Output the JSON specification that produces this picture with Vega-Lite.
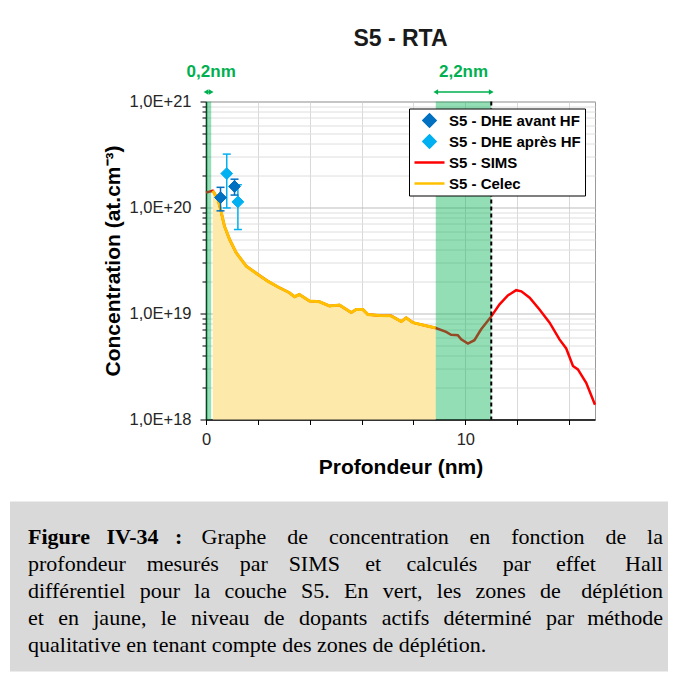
{
  "$schema": "https://vega.github.io/schema/vega-lite/v6.json",
  "background": "white",
  "padding": {"left": 10, "top": 26.5, "right": 10, "bottom": 5},
  "spacing": 24,
  "config": {"font": "Liberation Sans", "view": {"stroke": null}},
  "datasets": {
    "sims": [
      {"x": 0, "v": 1.38e20}, {"x": 0.26, "v": 1.44e20}, {"x": 0.46, "v": 1.2e20}, {"x": 0.59, "v": 9.0e19},
      {"x": 0.71, "v": 6.7e19}, {"x": 0.91, "v": 5.0e19}, {"x": 1.16, "v": 3.76e19}, {"x": 1.55, "v": 2.8e19},
      {"x": 2.0, "v": 2.34e19}, {"x": 2.38, "v": 2.02e19}, {"x": 2.83, "v": 1.75e19}, {"x": 3.22, "v": 1.57e19},
      {"x": 3.41, "v": 1.44e19}, {"x": 3.6, "v": 1.51e19}, {"x": 3.99, "v": 1.31e19}, {"x": 4.38, "v": 1.29e19},
      {"x": 4.76, "v": 1.18e19}, {"x": 5.15, "v": 1.2e19}, {"x": 5.6, "v": 1.02e19}, {"x": 5.79, "v": 1.09e19},
      {"x": 6.05, "v": 1.09e19}, {"x": 6.24, "v": 9.8e18}, {"x": 6.69, "v": 9.6e18}, {"x": 7.14, "v": 9.5e18},
      {"x": 7.53, "v": 8.4e18}, {"x": 7.72, "v": 9.1e18}, {"x": 7.98, "v": 8.2e18}, {"x": 8.36, "v": 7.8e18},
      {"x": 8.86, "v": 7.3e18}, {"x": 9.26, "v": 6.7e18}, {"x": 9.45, "v": 6.3e18}, {"x": 9.71, "v": 6.25e18},
      {"x": 9.84, "v": 5.7e18}, {"x": 10.1, "v": 5.2e18}, {"x": 10.35, "v": 5.6e18}, {"x": 10.61, "v": 7.1e18},
      {"x": 10.96, "v": 9.1e18}, {"x": 11.32, "v": 1.22e19}, {"x": 11.64, "v": 1.48e19}, {"x": 11.96, "v": 1.66e19},
      {"x": 12.16, "v": 1.62e19}, {"x": 12.48, "v": 1.41e19}, {"x": 12.86, "v": 1.09e19}, {"x": 13.25, "v": 8.2e18},
      {"x": 13.63, "v": 5.7e18}, {"x": 13.89, "v": 4.68e18}, {"x": 14.15, "v": 3.2e18}, {"x": 14.34, "v": 2.97e18},
      {"x": 14.66, "v": 2.22e18}, {"x": 15.0, "v": 1.38e18}
    ],
    "celec": [
      {"x": 0.26, "v": 1.44e20}, {"x": 0.46, "v": 1.2e20}, {"x": 0.59, "v": 9.0e19},
      {"x": 0.71, "v": 6.7e19}, {"x": 0.91, "v": 5.0e19}, {"x": 1.16, "v": 3.76e19}, {"x": 1.55, "v": 2.8e19},
      {"x": 2.0, "v": 2.34e19}, {"x": 2.38, "v": 2.02e19}, {"x": 2.83, "v": 1.75e19}, {"x": 3.22, "v": 1.57e19},
      {"x": 3.41, "v": 1.44e19}, {"x": 3.6, "v": 1.51e19}, {"x": 3.99, "v": 1.31e19}, {"x": 4.38, "v": 1.29e19},
      {"x": 4.76, "v": 1.18e19}, {"x": 5.15, "v": 1.2e19}, {"x": 5.6, "v": 1.02e19}, {"x": 5.79, "v": 1.09e19},
      {"x": 6.05, "v": 1.09e19}, {"x": 6.24, "v": 9.8e18}, {"x": 6.69, "v": 9.6e18}, {"x": 7.14, "v": 9.5e18},
      {"x": 7.53, "v": 8.4e18}, {"x": 7.72, "v": 9.1e18}, {"x": 7.98, "v": 8.2e18}, {"x": 8.36, "v": 7.8e18},
      {"x": 8.86, "v": 7.3e18}
    ],
    "dhe": [
      {"series": "S5 - DHE avant HF", "x": 0.56, "v": 1.24e20, "lo": 0.93e20, "hi": 1.55e20},
      {"series": "S5 - DHE avant HF", "x": 1.10, "v": 1.58e20, "lo": 1.31e20, "hi": 1.85e20},
      {"series": "S5 - DHE après HF", "x": 0.80, "v": 2.09e20, "lo": 0.99e20, "hi": 3.19e20},
      {"series": "S5 - DHE après HF", "x": 1.23, "v": 1.13e20, "lo": 0.62e20, "hi": 1.64e20}
    ],
    "bands": [{"x1": 0, "x2": 0.2}, {"x1": 8.86, "x2": 11}],
    "edge": [{"x": 11}],
    "notes": [
      {"x": 0.2, "x1": 0, "x2": 0.2, "label": "0,2nm"},
      {"x": 9.93, "x1": 8.86, "x2": 11, "label": "2,2nm"}
    ],
    "caption": [
      {"line": 1, "side": "left", "role": "label", "text": "Figure\u2002 IV-34\u2002 :"},
      {"line": 1, "side": "right", "role": "body", "text": "Graphe\u2002\u2009 de\u2002\u2009 concentration\u2002\u2009 en\u2002\u2009 fonction\u2002\u2009 de\u2002\u2009 la"},
      {"line": 2, "side": "left", "role": "body", "text": "profondeur\u2002\u2009 mesurés\u2002\u2009 par\u2002\u2009 SIMS\u2002\u2009\u2009 et\u2002\u2009\u2009 calculés\u2002\u2009\u2009 par\u2002\u2009\u2009 effet"},
      {"line": 2, "side": "right", "role": "body", "text": "Hall"},
      {"line": 3, "side": "left", "role": "body", "text": "différentiel\u2009\u2009 pour\u2009\u2009 la\u2009\u2009 couche\u2009\u2009 S5.\u2009\u2009 En\u2009\u2009 vert,\u2009\u2009 les\u2009\u2009 zones\u2009\u2009 de"},
      {"line": 3, "side": "right", "role": "body", "text": "déplétion"},
      {"line": 4, "side": "left", "role": "body", "text": "et\u2009\u2009 en\u2009\u2009 jaune,\u2009\u2009 le\u2009\u2009 niveau\u2009\u2009 de\u2009\u2009 dopants\u2009\u2009 actifs\u2009\u2009 déterminé\u2009\u2009 par"},
      {"line": 4, "side": "right", "role": "body", "text": "méthode"},
      {"line": 5, "side": "left", "role": "body", "text": "qualitative en tenant compte des zones de déplétion."}
    ]
  },
  "vconcat": [
    {
      "spacing": 0,
      "hconcat": [
        {
          "width": 90.5, "height": 10,
          "view": {"stroke": null},
          "data": {"values": [{"t": ""}]},
          "mark": {"type": "text"},
          "encoding": {"text": {"field": "t"}}
        },
        {
          "width": 389, "height": 318,
          "view": {"stroke": "#9a9a9a", "strokeWidth": 1},
          "title": {"text": "S5 - RTA", "font": "Liberation Sans", "fontSize": 23, "fontWeight": "bold", "color": "#1a1a1a", "frame": "group", "anchor": "middle", "offset": 12},
          "layer": [
            {
              "data": {"name": "celec"},
              "mark": {"type": "area", "color": "#fde9a9", "opacity": 1},
              "encoding": {
                "x": {"field": "x", "type": "quantitative", "scale": {"domain": [0, 15], "nice": false, "zero": false},
                  "axis": {"title": "Profondeur (nm)", "values": [0,1,2,3,4,5,6,7,8,9,10,11,12,13,14,15], "format": "d",
                    "labelExpr": "datum.value % 5 === 0 ? datum.label : ''", "labelOverlap": false, "labelFlush": false,
                    "grid": true, "gridColor": "#d9d9d9", "gridWidth": 1,
                    "tickSize": 5, "tickColor": "#000", "tickWidth": 1, "domainColor": "#000", "domainWidth": 1.5,
                    "labelFont": "Liberation Sans", "labelFontSize": 16.5, "labelColor": "#262626", "labelPadding": 7,
                    "titleFont": "Liberation Sans", "titleFontSize": 21, "titleFontWeight": "bold", "titleColor": "#000", "titlePadding": 8}},
                "y": {"field": "v", "type": "quantitative", "scale": {"type": "log", "domain": [1e18, 1e21], "nice": false},
                  "axis": {"title": "Concentration  (at.cm⁻³)",
                    "values": [1e18,2e18,3e18,4e18,5e18,6e18,7e18,8e18,9e18,1e19,2e19,3e19,4e19,5e19,6e19,7e19,8e19,9e19,1e20,2e20,3e20,4e20,5e20,6e20,7e20,8e20,9e20,1e21],
                    "labelExpr": "abs(log(datum.value)/LN10 - round(log(datum.value)/LN10)) < 0.001 ? '1,0E+' + round(log(datum.value)/LN10) : ''",
                    "labelOverlap": false, "labelFlush": false,
                    "grid": true,
                    "gridColor": {"condition": {"test": "abs(log(datum.value)/LN10 - round(log(datum.value)/LN10)) < 0.001", "value": "#bdbdbd"}, "value": "#dedede"},
                    "tickSize": {"condition": {"test": "abs(log(datum.value)/LN10 - round(log(datum.value)/LN10)) < 0.001", "value": 6}, "value": 4},
                    "tickColor": "#000", "domainColor": "#000", "domainWidth": 1.5,
                    "labelFont": "Liberation Sans", "labelFontSize": 16.5, "labelColor": "#262626", "labelPadding": 9,
                    "titleFont": "Liberation Sans", "titleFontSize": 21, "titleFontWeight": "bold", "titleColor": "#000", "titlePadding": 6}},
                "y2": {"datum": 1e18}
              }
            },
            {
              "data": {"name": "sims"},
              "mark": {"type": "line", "color": "#ff0000", "strokeWidth": 2.5},
              "encoding": {"x": {"field": "x", "type": "quantitative"}, "y": {"field": "v", "type": "quantitative"}}
            },
            {
              "data": {"name": "celec"},
              "mark": {"type": "line", "color": "#ffc000", "strokeWidth": 3},
              "encoding": {"x": {"field": "x", "type": "quantitative"}, "y": {"field": "v", "type": "quantitative"}}
            },
            {
              "data": {"name": "bands"},
              "mark": {"type": "rect", "color": "#00b050", "opacity": 0.42},
              "encoding": {"x": {"field": "x1", "type": "quantitative"}, "x2": {"field": "x2"}, "y": {"datum": 1e21}, "y2": {"datum": 1e18}}
            },
            {
              "data": {"name": "edge"},
              "mark": {"type": "rule", "color": "#000", "strokeWidth": 2, "strokeDash": [4, 3]},
              "encoding": {"x": {"field": "x", "type": "quantitative"}, "y": {"datum": 1e21}, "y2": {"datum": 1e18}}
            },
            {
              "data": {"name": "dhe"},
              "mark": {"type": "rule", "strokeWidth": 1.5},
              "encoding": {"x": {"field": "x", "type": "quantitative"}, "y": {"field": "lo", "type": "quantitative"}, "y2": {"field": "hi"},
                "color": {"condition": {"test": "datum.series === 'S5 - DHE avant HF'", "value": "#0070c0"}, "value": "#00b0f0"}}
            },
            {
              "data": {"name": "dhe"},
              "mark": {"type": "rule", "strokeWidth": 1.5, "xOffset": -4, "x2Offset": 4},
              "encoding": {"x": {"field": "x", "type": "quantitative"}, "x2": {"field": "x"}, "y": {"field": "hi", "type": "quantitative"},
                "color": {"condition": {"test": "datum.series === 'S5 - DHE avant HF'", "value": "#0070c0"}, "value": "#00b0f0"}}
            },
            {
              "data": {"name": "dhe"},
              "mark": {"type": "rule", "strokeWidth": 1.5, "xOffset": -4, "x2Offset": 4},
              "encoding": {"x": {"field": "x", "type": "quantitative"}, "x2": {"field": "x"}, "y": {"field": "lo", "type": "quantitative"},
                "color": {"condition": {"test": "datum.series === 'S5 - DHE avant HF'", "value": "#0070c0"}, "value": "#00b0f0"}}
            },
            {
              "data": {"name": "dhe"},
              "mark": {"type": "point", "opacity": 1, "strokeWidth": 1},
              "encoding": {
                "x": {"field": "x", "type": "quantitative"},
                "y": {"field": "v", "type": "quantitative"},
                "fill": {"field": "series", "type": "nominal",
                  "scale": {"domain": ["S5 - DHE avant HF", "S5 - DHE après HF", "S5 - SIMS", "S5 - Celec"], "range": ["#0070c0", "#00b0f0", "#ff0000", "#ffc000"]},
                  "legend": {"title": null, "orient": "none", "legendX": 399, "legendY": 7, "fillColor": "white", "strokeColor": "#000", "padding": 4,
                    "labelFont": "Liberation Sans", "labelFontSize": 15, "labelFontWeight": "bold", "labelColor": "#000",
                    "symbolOffset": 0, "labelOffset": 3, "rowPadding": 5, "clipHeight": 16, "symbolStrokeWidth": 2.5}},
                "stroke": {"field": "series", "type": "nominal",
                  "scale": {"domain": ["S5 - DHE avant HF", "S5 - DHE après HF", "S5 - SIMS", "S5 - Celec"], "range": ["#0070c0", "#00b0f0", "#ff0000", "#ffc000"]},
                  "legend": {"title": null, "orient": "none", "legendX": 399, "legendY": 7, "fillColor": "white", "strokeColor": "#000", "padding": 4,
                    "labelFont": "Liberation Sans", "labelFontSize": 15, "labelFontWeight": "bold", "labelColor": "#000",
                    "symbolOffset": 0, "labelOffset": 3, "rowPadding": 5, "clipHeight": 16, "symbolStrokeWidth": 2.5}},
                "shape": {"field": "series", "type": "nominal",
                  "scale": {"domain": ["S5 - DHE avant HF", "S5 - DHE après HF", "S5 - SIMS", "S5 - Celec"], "range": ["diamond", "diamond", "stroke", "stroke"]},
                  "legend": {"title": null, "orient": "none", "legendX": 399, "legendY": 7, "fillColor": "white", "strokeColor": "#000", "padding": 4,
                    "labelFont": "Liberation Sans", "labelFontSize": 15, "labelFontWeight": "bold", "labelColor": "#000",
                    "symbolOffset": 0, "labelOffset": 3, "rowPadding": 5, "clipHeight": 16, "symbolStrokeWidth": 2.5}},
                "size": {"field": "series", "type": "nominal",
                  "scale": {"type": "ordinal", "domain": ["S5 - DHE avant HF", "S5 - DHE après HF", "S5 - SIMS", "S5 - Celec"], "range": [140, 140, 900, 900]},
                  "legend": {"title": null, "orient": "none", "legendX": 399, "legendY": 7, "fillColor": "white", "strokeColor": "#000", "padding": 4,
                    "labelFont": "Liberation Sans", "labelFontSize": 15, "labelFontWeight": "bold", "labelColor": "#000",
                    "symbolOffset": 0, "labelOffset": 3, "rowPadding": 5, "clipHeight": 16, "symbolStrokeWidth": 2.5}}
              }
            },
            {
              "data": {"name": "notes"},
              "mark": {"type": "text", "color": "#00b050", "fontWeight": "bold", "fontSize": 17, "font": "Liberation Sans", "dy": -30},
              "encoding": {"x": {"field": "x", "type": "quantitative"}, "y": {"datum": 1e21}, "text": {"field": "label"}}
            },
            {
              "data": {"name": "notes"},
              "mark": {"type": "rule", "color": "#00b050", "strokeWidth": 1.5, "yOffset": -9.5},
              "encoding": {"x": {"field": "x1", "type": "quantitative"}, "x2": {"field": "x2"}, "y": {"datum": 1e21}}
            },
            {
              "data": {"name": "notes"},
              "mark": {"type": "point", "shape": "triangle-left", "filled": true, "size": 30, "color": "#00b050", "opacity": 1, "yOffset": -9.5},
              "encoding": {"x": {"field": "x1", "type": "quantitative"}, "y": {"datum": 1e21}}
            },
            {
              "data": {"name": "notes"},
              "mark": {"type": "point", "shape": "triangle-right", "filled": true, "size": 30, "color": "#00b050", "opacity": 1, "yOffset": -9.5},
              "encoding": {"x": {"field": "x2", "type": "quantitative"}, "y": {"datum": 1e21}}
            }
          ]
        }
      ]
    },
    {
      "width": 658, "height": 170,
      "view": {"fill": "#d9d9d9", "stroke": null},
      "data": {"name": "caption"},
      "encoding": {
        "y": {"field": "line", "type": "quantitative", "scale": {"domain": [-0.343, 6.0], "reverse": true, "nice": false, "zero": false}, "axis": null},
        "x": {"field": "side", "type": "nominal", "scale": {"type": "point", "domain": ["left", "right"], "range": [18, 653], "padding": 0}, "axis": null},
        "text": {"field": "text"}
      },
      "layer": [
        {"transform": [{"filter": "datum.side === 'left' && datum.role === 'body'"}],
         "mark": {"type": "text", "align": "left", "baseline": "middle", "font": "Liberation Serif", "fontSize": 22, "color": "#000"}},
        {"transform": [{"filter": "datum.role === 'label'"}],
         "mark": {"type": "text", "align": "left", "baseline": "middle", "font": "Liberation Serif", "fontSize": 22, "fontWeight": "bold", "color": "#000"}},
        {"transform": [{"filter": "datum.side === 'right'"}],
         "mark": {"type": "text", "align": "right", "baseline": "middle", "font": "Liberation Serif", "fontSize": 22, "color": "#000"}}
      ]
    }
  ]
}
